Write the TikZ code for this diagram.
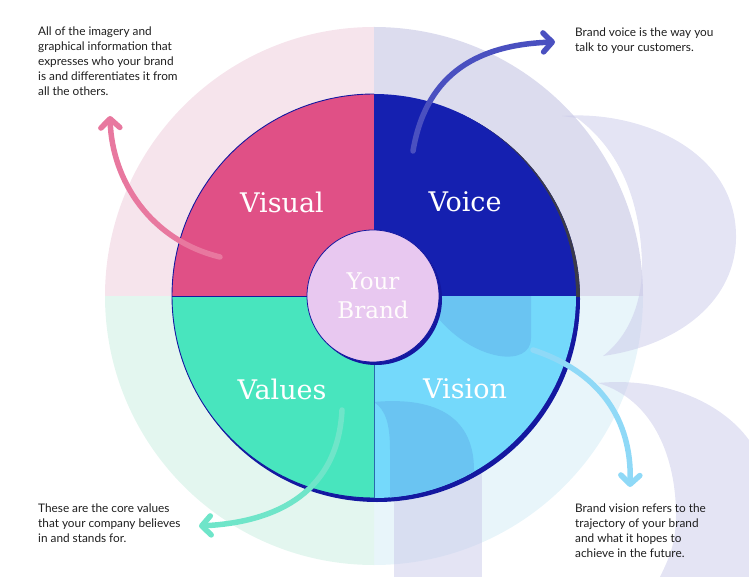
\documentclass[tikz,border=0pt]{standalone}
\usepackage{fontspec}
\setmainfont{Lato}
\newfontfamily\labelfont{DejaVu Serif}
\usetikzlibrary{arrows.meta}
\definecolor{pTL}{HTML}{F6E4EC}
\definecolor{pTR}{HTML}{DCDCEE}
\definecolor{pBL}{HTML}{E3F6EF}
\definecolor{pBR}{HTML}{E8F5FA}
\definecolor{logo}{HTML}{C9C9EA}
\definecolor{cVisual}{HTML}{E05086}
\definecolor{cVoice}{HTML}{1520B0}
\definecolor{cValues}{HTML}{48E5BE}
\definecolor{cVision}{HTML}{74D9FB}
\definecolor{cVisionDark}{HTML}{6AC4F2}
\definecolor{cCenter}{HTML}{E8C8F0}
\definecolor{navy}{HTML}{1418A0}
\definecolor{rimgray}{HTML}{3A3A4A}
\definecolor{aPink}{HTML}{E8789F}
\definecolor{aBlue}{HTML}{4A50C0}
\definecolor{aMint}{HTML}{6FE5C9}
\definecolor{aSky}{HTML}{8FD9F7}
\definecolor{txt}{HTML}{1E1E1E}
\tikzset{
  quad/.style={draw=navy, line width=0.9pt},
  seglabel/.style={font=\labelfont\fontsize{27}{30}\selectfont, text=white, inner sep=0pt},
  centerlabel/.style={font=\labelfont\fontsize{23}{29}\selectfont, text=white!95!pink, align=center, inner sep=0pt},
  desc/.style={font=\fontsize{11.8}{15}\selectfont, text=txt, align=left, anchor=north west, inner sep=0pt},
  callout/.style={line width=5.5pt, line cap=round, -{Straight Barb[length=9pt,width=19pt,round]}},
  logoshape/.style={fill=logo, fill opacity=0.5}
}
\begin{document}
\begin{tikzpicture}[x=1pt,y=-1pt]
\useasboundingbox (0,0) rectangle (749,577);
\clip (0,0) rectangle (749,577);
\coordinate (C) at (374,296);
% outer pale quadrants
\fill[pTL] (C) -- (105,296) arc[start angle=180,end angle=270,radius=269] -- cycle;
\fill[pTR] (C) -- (374,27) arc[start angle=270,end angle=360,radius=269] -- cycle;
\fill[pBR] (C) -- (643,296) arc[start angle=0,end angle=90,radius=269] -- cycle;
\fill[pBL] (C) -- (374,565) arc[start angle=90,end angle=180,radius=269] -- cycle;
% background logo shapes
\fill[logoshape] (562,116) .. controls (640,110) and (735,150) .. (736,235)
  .. controls (737,300) and (680,345) .. (603,356)
  .. controls (630,335) and (643,300) .. (642,262)
  .. controls (640,200) and (620,150) .. (577,118) -- cycle;
\fill[logoshape] (598,383) .. controls (660,377) and (720,400) .. (749,440)
  -- (749,577) -- (660,577) .. controls (668,560) and (676,545) .. (676,515)
  .. controls (676,460) and (655,400) .. (598,383) -- cycle;
\fill[logoshape] (394,420) rectangle (482,577);
% wheel shadow
\fill[navy] (377,299) circle[radius=203];
\begin{scope}
  \clip (374,0) rectangle (749,296);
  \fill[rimgray] (377,299) circle[radius=203];
\end{scope}
% wheel quadrants
\fill[cVisual] (C) -- (172,296) arc[start angle=180,end angle=270,radius=202] -- cycle;
\fill[cVoice] (C) -- (374,94) arc[start angle=270,end angle=360,radius=202] -- cycle;
\fill[cVision] (C) -- (576,296) arc[start angle=0,end angle=90,radius=202] -- cycle;
\fill[cValues] (C) -- (374,498) arc[start angle=90,end angle=180,radius=202] -- cycle;
% darker overlays inside the Vision quadrant
\begin{scope}
  \clip (C) -- (576,296) arc[start angle=0,end angle=90,radius=202] -- cycle;
  \fill[cVisionDark] (430,296) -- (531,296) -- (531,338)
    .. controls (531,368) and (475,362) .. (438,318) -- cycle;
  \fill[cVisionDark] (374,402) .. controls (440,396) and (474,420) .. (474,470)
    -- (474,510) -- (390,510) -- (390,450) .. controls (390,425) and (386,410) .. (374,402) -- cycle;
\end{scope}
% wheel outlines
\draw[quad] (172,296) arc[start angle=180,end angle=270,radius=202];
\draw[quad] (172,296) arc[start angle=180,end angle=90,radius=202];
\draw[draw=navy, line width=0.9pt] (172,296) -- (374,296);
\draw[draw=navy!60!cValues, line width=0.7pt] (374,296) -- (374,498);
% center circle
\fill[navy] (376,299) circle[radius=66];
\node[circle, fill=cCenter, draw=navy, line width=0.8pt, minimum size=132pt, inner sep=0pt] (hub) at (373,296) {};
\node[centerlabel] (brand) at (373,296) {Your\\Brand};
% segment labels
\node[seglabel] (visual) at (282,202) {Visual};
\node[seglabel] (voice) at (465,202) {Voice};
\node[seglabel] (values) at (282,389) {Values};
\node[seglabel] (vision) at (465,389) {Vision};
% callout anchors
\coordinate (pinkS) at (220,257);
\coordinate (pinkE) at (110,116);
\coordinate (blueS) at (413,151);
\coordinate (blueE) at (555,42);
\coordinate (mintS) at (342,410);
\coordinate (mintE) at (199,526);
\coordinate (skyS) at (533,350);
\coordinate (skyE) at (630,487);
\draw[callout, draw=aPink] (pinkS) .. controls (150,240) and (112,180) .. (pinkE);
\draw[callout, draw=aBlue] (blueS) .. controls (425,80) and (470,45) .. (blueE);
\draw[callout, draw=aMint] (mintS) .. controls (338,490) and (280,522) .. (mintE);
\draw[callout, draw=aSky] (skyS) .. controls (600,372) and (632,420) .. (skyE);
% descriptions
\node[desc] (tVisual) at (38,27) {All of the imagery and\\graphical information that\\expresses who your brand\\is and differentiates it from\\all the others.};
\node[desc] (tVoice) at (575,28) {Brand voice is the way you\\talk to your customers.};
\node[desc] (tValues) at (38,504) {These are the core values\\that your company believes\\in and stands for.};
\node[desc] (tVision) at (575,504) {Brand vision refers to the\\trajectory of your brand\\and what it hopes to\\achieve in the future.};
\end{tikzpicture}
\end{document}
